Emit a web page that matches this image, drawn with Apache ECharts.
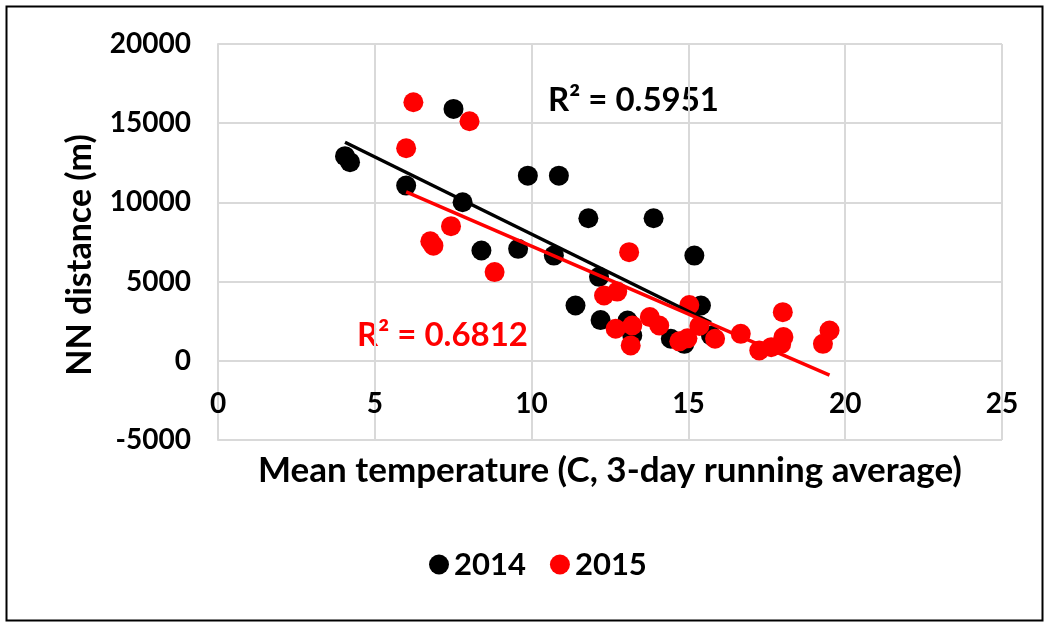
<!DOCTYPE html>
<html>
<head>
<meta charset="utf-8">
<script src="https://cdn.jsdelivr.net/npm/echarts@6/dist/echarts.min.js"></script>
<style>
html,body{margin:0;padding:0;background:#fff;}
#c{width:1045px;height:623px;}
</style>
</head>
<body>
<div id="c"></div>
<script>
// ---- data ----
const temp2014 = [4.05, 4.21, 6.0, 7.51, 7.80, 8.40, 9.57, 9.88, 10.71, 10.87, 11.40, 11.81, 12.15, 12.2, 13.06, 13.21, 13.89, 14.44, 14.87, 15.19, 15.40, 15.72];
const dist2014 = [12920, 12540, 11060, 15900, 10010, 6960, 7070, 11690, 6640, 11690, 3490, 9000, 5300, 2570, 2540, 1600, 9000, 1390, 1070, 6640, 3490, 1600];
const temp2015 = [6.0, 6.23, 6.77, 6.87, 7.43, 8.02, 8.82, 13.11, 12.31, 12.73, 12.68, 13.21, 13.16, 13.77, 14.07, 14.71, 14.97, 15.03, 15.35, 15.85, 16.67, 17.26, 17.64, 17.96, 18.01, 18.03, 19.29, 19.50];
const dist2015 = [13420, 16320, 7550, 7270, 8500, 15120, 5600, 6860, 4120, 4370, 2020, 2230, 970, 2760, 2230, 1230, 1420, 3520, 2200, 1390, 1700, 650, 860, 1070, 3070, 1500, 1070, 1910];
const seriesNames = ['2014', '2015'];
const r2Labels = ['R\u00b2 = 0.5951', 'R\u00b2 = 0.6812'];
const xTicks = [0, 5, 10, 15, 20, 25];
const yTicks = [-5000, 0, 5000, 10000, 15000, 20000];
const xTitle = 'Mean temperature (C, 3-day running average)';
const yTitle = 'NN distance (m)';

function pairs(xs, ys) { return xs.map((x, i) => [x, ys[i]]); }
function trend(xs, ys) {
  const n = xs.length;
  const mx = xs.reduce((a, b) => a + b, 0) / n;
  const my = ys.reduce((a, b) => a + b, 0) / n;
  let sxy = 0, sxx = 0;
  for (let i = 0; i < n; i++) { sxy += (xs[i] - mx) * (ys[i] - my); sxx += (xs[i] - mx) ** 2; }
  const b = sxy / sxx, a = my - b * mx;
  const x0 = Math.min(...xs), x1 = Math.max(...xs);
  return [[x0, a + b * x0], [x1, a + b * x1]];
}

const FONT = 'Lato';
const chart = echarts.init(document.getElementById('c'), null, { renderer: 'canvas' });
const grid = '#d9d9d9';
chart.setOption({
  animation: false,
  backgroundColor: '#fff',
  textStyle: { fontFamily: FONT },
  grid: { left: 218, right: 43, top: 44, bottom: 183 },
  xAxis: {
    type: 'value', min: xTicks[0], max: xTicks[xTicks.length - 1], interval: 5,
    axisLine: { show: true, onZero: true, lineStyle: { color: grid, width: 2 } },
    axisTick: { show: false },
    splitLine: { show: true, lineStyle: { color: grid, width: 2 } },
    axisLabel: { fontFamily: FONT, fontWeight: 'bold', fontSize: 28, color: '#000', margin: -50 },
    name: xTitle, nameLocation: 'middle', nameGap: 13,
    nameTextStyle: { fontFamily: FONT, fontWeight: 'bold', fontSize: 35, color: '#000' }
  },
  yAxis: {
    type: 'value', min: yTicks[0], max: yTicks[yTicks.length - 1], interval: 5000,
    axisLine: { show: true, lineStyle: { color: grid, width: 2 } },
    axisTick: { show: false },
    splitLine: { show: true, lineStyle: { color: grid, width: 2 } },
    axisLabel: { fontFamily: FONT, fontWeight: 'bold', fontSize: 28, color: '#000', margin: 27, formatter: v => String(v) }
  },
  legend: {
    data: seriesNames, bottom: 38, left: 424, itemGap: 24,
    itemWidth: 20, itemHeight: 20, icon: 'circle',
    textStyle: { fontFamily: FONT, fontWeight: 'bold', fontSize: 31, color: '#000' }
  },
  series: [
    { name: seriesNames[0], type: 'scatter', symbolSize: 20, itemStyle: { color: '#000', opacity: 1 }, data: pairs(temp2014, dist2014), z: 2 },
    { name: seriesNames[1], type: 'scatter', symbolSize: 20, itemStyle: { color: '#ff0000', opacity: 1 }, data: pairs(temp2015, dist2015), z: 3 },
    { name: 'trend2014', type: 'line', showSymbol: false, symbol: 'none', lineStyle: { color: '#000', width: 3.5 }, data: trend(temp2014, dist2014), z: 4 },
    { name: 'trend2015', type: 'line', showSymbol: false, symbol: 'none', lineStyle: { color: '#ff0000', width: 3.5 }, data: trend(temp2015, dist2015), z: 5 }
  ],
  graphic: [
    { type: 'rect', left: 4, top: 4, shape: { width: 1036, height: 614 }, style: { fill: 'none', stroke: '#000', lineWidth: 2 }, z: -1 },
    { type: 'text', x: 80, y: 255, rotation: Math.PI / 2, style: { text: yTitle, fill: '#000', font: 'bold 34px ' + FONT, align: 'center', verticalAlign: 'middle' } },
    { type: 'text', x: 548, y: 100, style: { text: r2Labels[0], fill: '#000', font: 'bold 33px ' + FONT, verticalAlign: 'middle' } },
    { type: 'text', x: 357, y: 335, style: { text: r2Labels[1], fill: '#ff0000', font: 'bold 33px ' + FONT, verticalAlign: 'middle' } }
  ]
});
</script>
</body>
</html>
